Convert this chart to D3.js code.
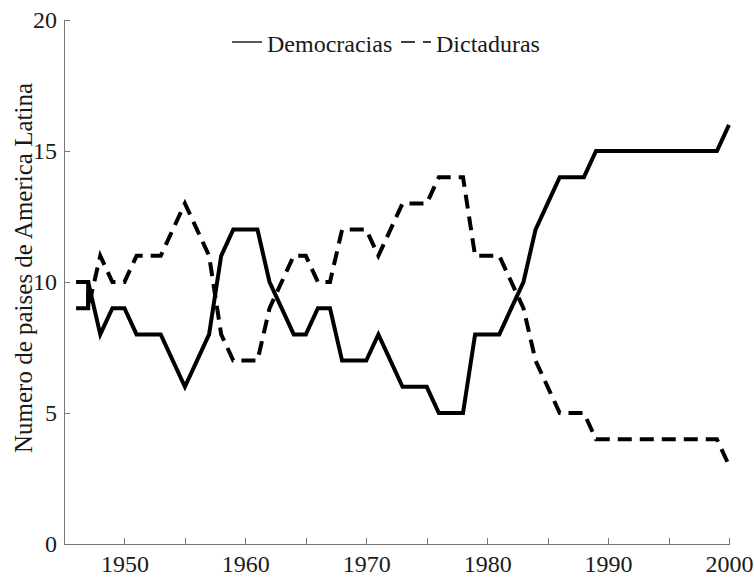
<!DOCTYPE html>
<html lang="es">
<head>
<meta charset="UTF-8">
<title>Democracias y dictaduras en America Latina</title>
<script src="https://d3js.org/d3.v7.min.js"></script>
<style>
    body { margin: 0; background: #fff; }
    svg { display: block; }
    svg text { font-family: "Liberation Serif", "Times New Roman", Times, "DejaVu Serif", serif; }
    .axis path, .axis line { stroke: #777; stroke-width: 1; shape-rendering: crispEdges; }
    .axis text { font-size: 24px; fill: #1a1a1a; }
    .serie { fill: none; stroke: #000; stroke-width: 4; stroke-linejoin: miter; }
    .legend text { font-size: 24px; fill: #1a1a1a; }
</style>
</head>
<body>
<svg id="chart" width="754" height="577"></svg>
<script>
    // 1947 appears twice: the two counts swap within that year
    const years = [1946, 1947, 1947, 1948, 1949, 1950, 1951, 1952, 1953, 1954, 1955, 1956, 1957, 1958, 1959,
        1960, 1961, 1962, 1963, 1964, 1965, 1966, 1967, 1968, 1969, 1970, 1971, 1972, 1973, 1974, 1975,
        1976, 1977, 1978, 1979, 1980, 1981, 1982, 1983, 1984, 1985, 1986, 1987, 1988, 1989, 1990,
        1991, 1992, 1993, 1994, 1995, 1996, 1997, 1998, 1999, 2000];
    const democracias = [9, 9, 10, 8, 9, 9, 8, 8, 8, 7, 6, 7, 8, 11, 12,
        12, 12, 10, 9, 8, 8, 9, 9, 7, 7, 7, 8, 7, 6, 6, 6,
        5, 5, 5, 8, 8, 8, 9, 10, 12, 13, 14, 14, 14, 15, 15,
        15, 15, 15, 15, 15, 15, 15, 15, 15, 16];
    const dictaduras = [10, 10, 9, 11, 10, 10, 11, 11, 11, 12, 13, 12, 11, 8, 7,
        7, 7, 9, 10, 11, 11, 10, 10, 12, 12, 12, 11, 12, 13, 13, 13,
        14, 14, 14, 11, 11, 11, 10, 9, 7, 6, 5, 5, 5, 4, 4,
        4, 4, 4, 4, 4, 4, 4, 4, 4, 3];
    const xTicks = [1950, 1955, 1960, 1965, 1970, 1975, 1980, 1985, 1990, 1995, 2000];
    const yTicks = [0, 5, 10, 15, 20];
    const seriesNames = ["Democracias", "Dictaduras"];

    const svg = d3.select("#chart");
    const margin = { left: 64, right: 25, top: 20, bottom: 33 };
    const width = 754, height = 577;

    const x = d3.scaleLinear().domain([1945, 2000]).range([margin.left, width - margin.right]);
    const y = d3.scaleLinear().domain([0, 20]).range([height - margin.bottom, margin.top]);

    // axes, ticks pointing inward
    const xAxis = svg.append("g")
        .attr("class", "axis")
        .attr("transform", `translate(0,${y(0)})`)
        .call(d3.axisBottom(x).tickValues(xTicks).tickSize(-6).tickSizeOuter(0).tickPadding(11)
            .tickFormat(d => d % 10 === 0 ? d : ""));

    const yAxis = svg.append("g")
        .attr("class", "axis")
        .attr("transform", `translate(${x(1945)},0)`)
        .call(d3.axisLeft(y).tickValues(yTicks).tickSize(-6).tickSizeOuter(0).tickPadding(7));

    // d3 puts font-family on the axis group; drop it so the css serif font wins
    xAxis.attr("font-family", null);
    yAxis.attr("font-family", null);

    svg.append("text")
        .attr("transform", `translate(32,${(y(0) + y(20)) / 2 - 14}) rotate(-90)`)
        .attr("text-anchor", "middle")
        .attr("font-size", 25)
        .attr("fill", "#1a1a1a")
        .text("Numero de paises de America Latina");

    const line = d3.line()
        .x((d, i) => x(years[i]))
        .y(d => y(d));

    svg.append("path")
        .attr("class", "serie")
        .attr("d", line(democracias));

    svg.append("path")
        .attr("class", "serie")
        .attr("stroke-dasharray", "14,8")
        .attr("d", line(dictaduras));

    // legend
    const legend = svg.append("g").attr("class", "legend");
    const items = [
        { name: seriesNames[0], x0: 232, dash: null },
        { name: seriesNames[1], x0: 401, dash: "14,8" }
    ];
    items.forEach(it => {
        legend.append("line")
            .attr("x1", it.x0).attr("x2", it.x0 + 30)
            .attr("y1", 42).attr("y2", 42)
            .attr("stroke", "#000")
            .attr("stroke-width", 1.3)
            .attr("stroke-dasharray", it.dash);
        legend.append("text")
            .attr("x", it.x0 + 35)
            .attr("y", 52)
            .text(it.name);
    });
</script>
</body>
</html>
